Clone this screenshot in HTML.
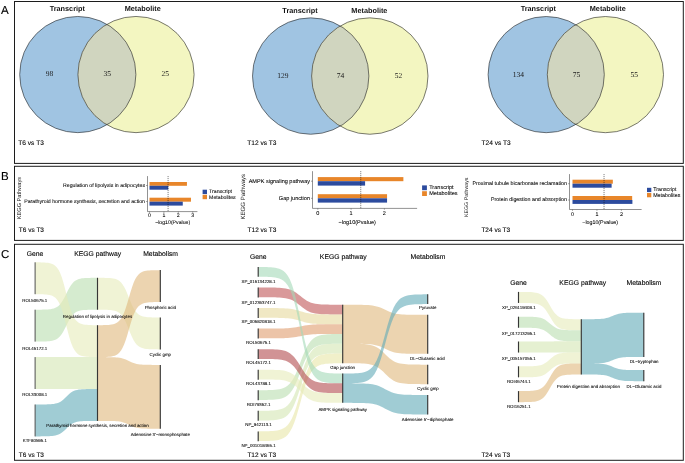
<!DOCTYPE html>
<html><head><meta charset="utf-8"><title>Figure</title>
<style>html,body{margin:0;padding:0;background:#fff;}svg{display:block;}</style></head>
<body><svg width="685" height="463" viewBox="0 0 685 463" text-rendering="geometricPrecision">
<rect width="685" height="463" fill="#fff"/>
<rect x="14.5" y="1.5" width="668.8" height="161.9" fill="none" stroke="#1c1c1c" stroke-width="1"/>
<rect x="14.5" y="166.3" width="668.8" height="74.1" fill="none" stroke="#1c1c1c" stroke-width="1"/>
<rect x="14.5" y="244.3" width="668.8" height="216.0" fill="none" stroke="#1c1c1c" stroke-width="1"/>
<text x="0.90" y="14.00" font-size="11.6" text-anchor="start" font-family="Liberation Sans, Arial, sans-serif" fill="#000"  stroke="#000" stroke-width="0.1">A</text>
<text x="1.00" y="179.80" font-size="11.5" text-anchor="start" font-family="Liberation Sans, Arial, sans-serif" fill="#000"  stroke="#000" stroke-width="0.1">B</text>
<text x="1.00" y="257.90" font-size="11.5" text-anchor="start" font-family="Liberation Sans, Arial, sans-serif" fill="#000"  stroke="#000" stroke-width="0.1">C</text>
<clipPath id="vc1"><circle cx="77.8" cy="74.55" r="58.1"/></clipPath>
<circle cx="77.8" cy="74.55" r="58.1" fill="#a0c4e2"/>
<circle cx="136.0" cy="74.55" r="58.1" fill="#f3f6c1"/>
<circle cx="136.0" cy="74.55" r="58.1" fill="#d0d5bf" clip-path="url(#vc1)"/>
<circle cx="77.8" cy="74.55" r="58.1" fill="none" stroke="#222" stroke-width="0.6"/>
<circle cx="136.0" cy="74.55" r="58.1" fill="none" stroke="#222" stroke-width="0.6"/>
<text x="49.40" y="76.45" font-size="7.5" text-anchor="middle" font-family="Liberation Serif, Times New Roman, serif" fill="#1a1a1a" >98</text>
<text x="107.30" y="76.45" font-size="7.5" text-anchor="middle" font-family="Liberation Serif, Times New Roman, serif" fill="#1a1a1a" >35</text>
<text x="165.20" y="76.45" font-size="7.5" text-anchor="middle" font-family="Liberation Serif, Times New Roman, serif" fill="#1a1a1a" >25</text>
<text x="67.30" y="10.90" font-size="7.3" text-anchor="middle" font-family="Liberation Sans, Arial, sans-serif" font-weight="bold" fill="#111" >Transcript</text>
<text x="142.70" y="10.90" font-size="7.3" text-anchor="middle" font-family="Liberation Sans, Arial, sans-serif" font-weight="bold" fill="#111" >Metabolite</text>
<text x="18.30" y="145.00" font-size="6.6" text-anchor="start" font-family="Liberation Sans, Arial, sans-serif" fill="#000"  stroke="#000" stroke-width="0.1">T6 vs T3</text>
<clipPath id="vc2"><circle cx="310.7" cy="76.05" r="58.2"/></clipPath>
<circle cx="310.7" cy="76.05" r="58.2" fill="#a0c4e2"/>
<circle cx="369.8" cy="76.05" r="58.2" fill="#f3f6c1"/>
<circle cx="369.8" cy="76.05" r="58.2" fill="#d0d5bf" clip-path="url(#vc2)"/>
<circle cx="310.7" cy="76.05" r="58.2" fill="none" stroke="#222" stroke-width="0.6"/>
<circle cx="369.8" cy="76.05" r="58.2" fill="none" stroke="#222" stroke-width="0.6"/>
<text x="282.80" y="77.95" font-size="7.5" text-anchor="middle" font-family="Liberation Serif, Times New Roman, serif" fill="#1a1a1a" >129</text>
<text x="340.50" y="77.95" font-size="7.5" text-anchor="middle" font-family="Liberation Serif, Times New Roman, serif" fill="#1a1a1a" >74</text>
<text x="398.50" y="77.95" font-size="7.5" text-anchor="middle" font-family="Liberation Serif, Times New Roman, serif" fill="#1a1a1a" >52</text>
<text x="300.00" y="12.60" font-size="7.3" text-anchor="middle" font-family="Liberation Sans, Arial, sans-serif" font-weight="bold" fill="#111" >Transcript</text>
<text x="369.40" y="12.60" font-size="7.3" text-anchor="middle" font-family="Liberation Sans, Arial, sans-serif" font-weight="bold" fill="#111" >Metabolite</text>
<text x="247.30" y="145.00" font-size="6.6" text-anchor="start" font-family="Liberation Sans, Arial, sans-serif" fill="#000"  stroke="#000" stroke-width="0.1">T12 vs T3</text>
<clipPath id="vc3"><circle cx="546.2" cy="74.6" r="58.1"/></clipPath>
<circle cx="546.2" cy="74.6" r="58.1" fill="#a0c4e2"/>
<circle cx="605.4" cy="74.6" r="58.1" fill="#f3f6c1"/>
<circle cx="605.4" cy="74.6" r="58.1" fill="#d0d5bf" clip-path="url(#vc3)"/>
<circle cx="546.2" cy="74.6" r="58.1" fill="none" stroke="#222" stroke-width="0.6"/>
<circle cx="605.4" cy="74.6" r="58.1" fill="none" stroke="#222" stroke-width="0.6"/>
<text x="518.30" y="76.50" font-size="7.5" text-anchor="middle" font-family="Liberation Serif, Times New Roman, serif" fill="#1a1a1a" >134</text>
<text x="576.60" y="76.50" font-size="7.5" text-anchor="middle" font-family="Liberation Serif, Times New Roman, serif" fill="#1a1a1a" >75</text>
<text x="634.20" y="76.50" font-size="7.5" text-anchor="middle" font-family="Liberation Serif, Times New Roman, serif" fill="#1a1a1a" >55</text>
<text x="538.30" y="10.90" font-size="7.3" text-anchor="middle" font-family="Liberation Sans, Arial, sans-serif" font-weight="bold" fill="#111" >Transcript</text>
<text x="607.80" y="10.90" font-size="7.3" text-anchor="middle" font-family="Liberation Sans, Arial, sans-serif" font-weight="bold" fill="#111" >Metabolite</text>
<text x="481.50" y="145.00" font-size="6.6" text-anchor="start" font-family="Liberation Sans, Arial, sans-serif" fill="#000"  stroke="#000" stroke-width="0.1">T24 vs T3</text>
<rect x="149.5" y="182" width="37.44" height="3.80" fill="#e8862a"/>
<rect x="149.5" y="185.8" width="18.72" height="3.90" fill="#2c4b9e"/>
<line x1="146.0" y1="185.5" x2="147.5" y2="185.5" stroke="#484848" stroke-width="0.5"/>
<text x="145.00" y="186.90" font-size="5.2" text-anchor="end" font-family="Liberation Sans, Arial, sans-serif" fill="#000"  stroke="#000" stroke-width="0.07">Regulation of lipolysis in adipocytes</text>
<rect x="149.5" y="197.7" width="41.47" height="4.00" fill="#e8862a"/>
<rect x="149.5" y="201.7" width="33.26" height="3.90" fill="#2c4b9e"/>
<line x1="146.0" y1="201.5" x2="147.5" y2="201.5" stroke="#484848" stroke-width="0.5"/>
<text x="145.00" y="202.90" font-size="5.2" text-anchor="end" font-family="Liberation Sans, Arial, sans-serif" fill="#000"  stroke="#000" stroke-width="0.07">Parathyroid hormone synthesis, secretion and action</text>
<line x1="168.08" y1="176.1" x2="168.08" y2="211.6" stroke="#111" stroke-width="0.6" stroke-dasharray="1 1"/>
<path d="M147.5 176.1V211.6H197.4" fill="none" stroke="#484848" stroke-width="0.6"/>
<line x1="149.50" y1="211.6" x2="149.50" y2="212.9" stroke="#484848" stroke-width="0.5"/>
<text x="149.50" y="216.80" font-size="5.2" text-anchor="middle" font-family="Liberation Sans, Arial, sans-serif" fill="#000"  stroke="#000" stroke-width="0.07">0</text>
<line x1="163.90" y1="211.6" x2="163.90" y2="212.9" stroke="#484848" stroke-width="0.5"/>
<text x="163.90" y="216.80" font-size="5.2" text-anchor="middle" font-family="Liberation Sans, Arial, sans-serif" fill="#000"  stroke="#000" stroke-width="0.07">1</text>
<line x1="178.30" y1="211.6" x2="178.30" y2="212.9" stroke="#484848" stroke-width="0.5"/>
<text x="178.30" y="216.80" font-size="5.2" text-anchor="middle" font-family="Liberation Sans, Arial, sans-serif" fill="#000"  stroke="#000" stroke-width="0.07">2</text>
<line x1="192.70" y1="211.6" x2="192.70" y2="212.9" stroke="#484848" stroke-width="0.5"/>
<text x="192.70" y="216.80" font-size="5.2" text-anchor="middle" font-family="Liberation Sans, Arial, sans-serif" fill="#000"  stroke="#000" stroke-width="0.07">3</text>
<text x="172.70" y="224.00" font-size="5.2" text-anchor="middle" font-family="Liberation Sans, Arial, sans-serif" fill="#000"  stroke="#000" stroke-width="0.07">−log10(Pvalue)</text>
<text transform="translate(21,198.1) rotate(-90)" font-size="5.65" text-anchor="middle" font-family="Liberation Sans, Arial, sans-serif" fill="#1a1a1a">KEGG Pathways</text>
<rect x="202.6" y="189.7" width="4.4" height="4.4" fill="#2c4b9e"/>
<rect x="202.6" y="194.8" width="4.4" height="4.4" fill="#e8862a"/>
<text x="209.10" y="193.30" font-size="5.2" text-anchor="start" font-family="Liberation Sans, Arial, sans-serif" fill="#000"  stroke="#000" stroke-width="0.07">Transcript</text>
<text x="209.10" y="198.60" font-size="5.2" text-anchor="start" font-family="Liberation Sans, Arial, sans-serif" fill="#000"  stroke="#000" stroke-width="0.07">Metabolites</text>
<text x="18.80" y="232.10" font-size="6.5" text-anchor="start" font-family="Liberation Sans, Arial, sans-serif" fill="#000"  stroke="#000" stroke-width="0.1">T6 vs T3</text>
<rect x="317.8" y="177.1" width="85.58" height="4.10" fill="#e8862a"/>
<rect x="317.8" y="181.2" width="47.29" height="4.40" fill="#2c4b9e"/>
<line x1="311.0" y1="181.2" x2="312.5" y2="181.2" stroke="#484848" stroke-width="0.5"/>
<text x="310.00" y="182.50" font-size="5.55" text-anchor="end" font-family="Liberation Sans, Arial, sans-serif" fill="#000"  stroke="#000" stroke-width="0.07">AMPK signaling pathway</text>
<rect x="317.8" y="194.2" width="69.26" height="4.10" fill="#e8862a"/>
<rect x="317.8" y="198.3" width="69.26" height="4.30" fill="#2c4b9e"/>
<line x1="311.0" y1="198.3" x2="312.5" y2="198.3" stroke="#484848" stroke-width="0.5"/>
<text x="310.00" y="199.50" font-size="5.55" text-anchor="end" font-family="Liberation Sans, Arial, sans-serif" fill="#000"  stroke="#000" stroke-width="0.07">Gap junction</text>
<line x1="360.76" y1="171.2" x2="360.76" y2="208.4" stroke="#111" stroke-width="0.6" stroke-dasharray="1 1"/>
<path d="M312.5 171.2V208.4H417.1" fill="none" stroke="#484848" stroke-width="0.6"/>
<line x1="317.80" y1="208.4" x2="317.80" y2="209.70000000000002" stroke="#484848" stroke-width="0.5"/>
<text x="317.80" y="214.80" font-size="5.55" text-anchor="middle" font-family="Liberation Sans, Arial, sans-serif" fill="#000"  stroke="#000" stroke-width="0.07">0</text>
<line x1="351.10" y1="208.4" x2="351.10" y2="209.70000000000002" stroke="#484848" stroke-width="0.5"/>
<text x="351.10" y="214.80" font-size="5.55" text-anchor="middle" font-family="Liberation Sans, Arial, sans-serif" fill="#000"  stroke="#000" stroke-width="0.07">1</text>
<line x1="384.40" y1="208.4" x2="384.40" y2="209.70000000000002" stroke="#484848" stroke-width="0.5"/>
<text x="384.40" y="214.80" font-size="5.55" text-anchor="middle" font-family="Liberation Sans, Arial, sans-serif" fill="#000"  stroke="#000" stroke-width="0.07">2</text>
<text x="357.20" y="223.70" font-size="5.55" text-anchor="middle" font-family="Liberation Sans, Arial, sans-serif" fill="#000"  stroke="#000" stroke-width="0.07">−log10(Pvalue)</text>
<text transform="translate(244.7,196.7) rotate(-90)" font-size="6.1" text-anchor="middle" font-family="Liberation Sans, Arial, sans-serif" fill="#1a1a1a">KEGG Pathways</text>
<rect x="422.1" y="185.4" width="4.8" height="4.8" fill="#2c4b9e"/>
<rect x="422.1" y="191.2" width="4.8" height="4.8" fill="#e8862a"/>
<text x="429.20" y="189.30" font-size="5.55" text-anchor="start" font-family="Liberation Sans, Arial, sans-serif" fill="#000"  stroke="#000" stroke-width="0.07">Transcript</text>
<text x="429.20" y="195.30" font-size="5.55" text-anchor="start" font-family="Liberation Sans, Arial, sans-serif" fill="#000"  stroke="#000" stroke-width="0.07">Metabolites</text>
<text x="247.60" y="231.90" font-size="6.5" text-anchor="start" font-family="Liberation Sans, Arial, sans-serif" fill="#000"  stroke="#000" stroke-width="0.1">T12 vs T3</text>
<rect x="572.5" y="179.7" width="40.34" height="4.00" fill="#e8862a"/>
<rect x="572.5" y="183.7" width="39.12" height="4.00" fill="#2c4b9e"/>
<line x1="568.0" y1="183.7" x2="569.5" y2="183.7" stroke="#484848" stroke-width="0.5"/>
<text x="567.00" y="184.60" font-size="5.3" text-anchor="end" font-family="Liberation Sans, Arial, sans-serif" fill="#000"  stroke="#000" stroke-width="0.07">Proximal tubule bicarbonate reclamation</text>
<rect x="572.5" y="196" width="59.66" height="4.00" fill="#e8862a"/>
<rect x="572.5" y="200" width="59.90" height="3.90" fill="#2c4b9e"/>
<line x1="568.0" y1="200" x2="569.5" y2="200" stroke="#484848" stroke-width="0.5"/>
<text x="567.00" y="200.90" font-size="5.3" text-anchor="end" font-family="Liberation Sans, Arial, sans-serif" fill="#000"  stroke="#000" stroke-width="0.07">Protein digestion and absorption</text>
<line x1="604.04" y1="174.1" x2="604.04" y2="209.5" stroke="#111" stroke-width="0.6" stroke-dasharray="1 1"/>
<path d="M569.5 174.1V209.5H641.6" fill="none" stroke="#484848" stroke-width="0.6"/>
<line x1="572.50" y1="209.5" x2="572.50" y2="210.8" stroke="#484848" stroke-width="0.5"/>
<text x="572.50" y="215.70" font-size="5.3" text-anchor="middle" font-family="Liberation Sans, Arial, sans-serif" fill="#000"  stroke="#000" stroke-width="0.07">0</text>
<line x1="596.95" y1="209.5" x2="596.95" y2="210.8" stroke="#484848" stroke-width="0.5"/>
<text x="596.95" y="215.70" font-size="5.3" text-anchor="middle" font-family="Liberation Sans, Arial, sans-serif" fill="#000"  stroke="#000" stroke-width="0.07">1</text>
<line x1="621.40" y1="209.5" x2="621.40" y2="210.8" stroke="#484848" stroke-width="0.5"/>
<text x="621.40" y="215.70" font-size="5.3" text-anchor="middle" font-family="Liberation Sans, Arial, sans-serif" fill="#000"  stroke="#000" stroke-width="0.07">2</text>
<text x="600.20" y="224.30" font-size="5.3" text-anchor="middle" font-family="Liberation Sans, Arial, sans-serif" fill="#000"  stroke="#000" stroke-width="0.07">−log10(Pvalue)</text>
<text transform="translate(468.4,197.3) rotate(-90)" font-size="5.25" text-anchor="middle" font-family="Liberation Sans, Arial, sans-serif" fill="#1a1a1a">KEGG Pathways</text>
<rect x="647" y="187.8" width="4.3" height="4.3" fill="#2c4b9e"/>
<rect x="647" y="193" width="4.3" height="4.3" fill="#e8862a"/>
<text x="653.20" y="191.00" font-size="5.3" text-anchor="start" font-family="Liberation Sans, Arial, sans-serif" fill="#000"  stroke="#000" stroke-width="0.07">Transcript</text>
<text x="653.20" y="197.30" font-size="5.3" text-anchor="start" font-family="Liberation Sans, Arial, sans-serif" fill="#000"  stroke="#000" stroke-width="0.07">Metabolites</text>
<text x="481.40" y="232.10" font-size="6.5" text-anchor="start" font-family="Liberation Sans, Arial, sans-serif" fill="#000"  stroke="#000" stroke-width="0.1">T24 vs T3</text>
<path d="M35.10 309.69 L36.66 309.68 L38.22 309.68 L39.78 309.66 L41.34 309.65 L42.90 309.62 L44.46 309.58 L46.02 309.52 L47.58 309.44 L49.14 309.31 L50.70 309.13 L52.26 308.85 L53.82 308.45 L55.38 307.87 L56.94 307.05 L58.50 305.90 L60.06 304.34 L61.62 302.32 L63.18 299.81 L64.74 296.90 L66.30 293.75 L67.86 290.60 L69.42 287.69 L70.98 285.18 L72.54 283.16 L74.10 281.60 L75.66 280.45 L77.22 279.63 L78.78 279.05 L80.34 278.65 L81.90 278.37 L83.46 278.19 L85.02 278.06 L86.58 277.98 L88.14 277.92 L89.70 277.88 L91.26 277.85 L92.82 277.84 L94.38 277.82 L95.94 277.82 L97.50 277.81 L97.50 309.71 L95.94 309.72 L94.38 309.72 L92.82 309.74 L91.26 309.75 L89.70 309.78 L88.14 309.82 L86.58 309.88 L85.02 309.96 L83.46 310.09 L81.90 310.27 L80.34 310.55 L78.78 310.95 L77.22 311.53 L75.66 312.35 L74.10 313.50 L72.54 315.06 L70.98 317.08 L69.42 319.59 L67.86 322.50 L66.30 325.65 L64.74 328.80 L63.18 331.71 L61.62 334.22 L60.06 336.24 L58.50 337.80 L56.94 338.95 L55.38 339.77 L53.82 340.35 L52.26 340.75 L50.70 341.03 L49.14 341.21 L47.58 341.34 L46.02 341.42 L44.46 341.48 L42.90 341.52 L41.34 341.55 L39.78 341.56 L38.22 341.58 L36.66 341.58 L35.10 341.59Z" fill="#b9deaf" fill-opacity="0.6"/>
<path d="M35.10 262.32 L36.66 262.33 L38.22 262.35 L39.78 262.37 L41.34 262.40 L42.90 262.46 L44.46 262.53 L46.02 262.65 L47.58 262.81 L49.14 263.06 L50.70 263.43 L52.26 263.97 L53.82 264.76 L55.38 265.91 L56.94 267.53 L58.50 269.80 L60.06 272.87 L61.62 276.86 L63.18 281.80 L64.74 287.54 L66.30 293.75 L67.86 299.96 L69.42 305.70 L70.98 310.64 L72.54 314.63 L74.10 317.70 L75.66 319.97 L77.22 321.59 L78.78 322.74 L80.34 323.53 L81.90 324.07 L83.46 324.44 L85.02 324.69 L86.58 324.85 L88.14 324.97 L89.70 325.04 L91.26 325.10 L92.82 325.13 L94.38 325.15 L95.94 325.17 L97.50 325.18 L97.50 357.08 L95.94 357.07 L94.38 357.05 L92.82 357.03 L91.26 357.00 L89.70 356.94 L88.14 356.87 L86.58 356.75 L85.02 356.59 L83.46 356.34 L81.90 355.97 L80.34 355.43 L78.78 354.64 L77.22 353.49 L75.66 351.87 L74.10 349.60 L72.54 346.53 L70.98 342.54 L69.42 337.60 L67.86 331.86 L66.30 325.65 L64.74 319.44 L63.18 313.70 L61.62 308.76 L60.06 304.77 L58.50 301.70 L56.94 299.43 L55.38 297.81 L53.82 296.66 L52.26 295.87 L50.70 295.33 L49.14 294.96 L47.58 294.71 L46.02 294.55 L44.46 294.43 L42.90 294.36 L41.34 294.30 L39.78 294.27 L38.22 294.25 L36.66 294.23 L35.10 294.22Z" fill="#e6ebb9" fill-opacity="0.6"/>
<path d="M35.10 357.10 L36.66 357.10 L38.22 357.10 L39.78 357.10 L41.34 357.10 L42.90 357.10 L44.46 357.10 L46.02 357.10 L47.58 357.10 L49.14 357.10 L50.70 357.10 L52.26 357.10 L53.82 357.10 L55.38 357.10 L56.94 357.10 L58.50 357.10 L60.06 357.10 L61.62 357.10 L63.18 357.10 L64.74 357.10 L66.30 357.10 L67.86 357.10 L69.42 357.10 L70.98 357.10 L72.54 357.10 L74.10 357.10 L75.66 357.10 L77.22 357.10 L78.78 357.10 L80.34 357.10 L81.90 357.10 L83.46 357.10 L85.02 357.10 L86.58 357.10 L88.14 357.10 L89.70 357.10 L91.26 357.10 L92.82 357.10 L94.38 357.10 L95.94 357.10 L97.50 357.10 L97.50 389.00 L95.94 389.00 L94.38 389.00 L92.82 389.00 L91.26 389.00 L89.70 389.00 L88.14 389.00 L86.58 389.00 L85.02 389.00 L83.46 389.00 L81.90 389.00 L80.34 389.00 L78.78 389.00 L77.22 389.00 L75.66 389.00 L74.10 389.00 L72.54 389.00 L70.98 389.00 L69.42 389.00 L67.86 389.00 L66.30 389.00 L64.74 389.00 L63.18 389.00 L61.62 389.00 L60.06 389.00 L58.50 389.00 L56.94 389.00 L55.38 389.00 L53.82 389.00 L52.26 389.00 L50.70 389.00 L49.14 389.00 L47.58 389.00 L46.02 389.00 L44.46 389.00 L42.90 389.00 L41.34 389.00 L39.78 389.00 L38.22 389.00 L36.66 389.00 L35.10 389.00Z" fill="#d4e6b2" fill-opacity="0.6"/>
<path d="M35.10 404.49 L36.66 404.49 L38.22 404.49 L39.78 404.48 L41.34 404.47 L42.90 404.46 L44.46 404.44 L46.02 404.41 L47.58 404.37 L49.14 404.31 L50.70 404.22 L52.26 404.09 L53.82 403.89 L55.38 403.61 L56.94 403.21 L58.50 402.65 L60.06 401.90 L61.62 400.91 L63.18 399.69 L64.74 398.28 L66.30 396.75 L67.86 395.22 L69.42 393.81 L70.98 392.59 L72.54 391.60 L74.10 390.85 L75.66 390.29 L77.22 389.89 L78.78 389.61 L80.34 389.41 L81.90 389.28 L83.46 389.19 L85.02 389.13 L86.58 389.09 L88.14 389.06 L89.70 389.04 L91.26 389.03 L92.82 389.02 L94.38 389.01 L95.94 389.01 L97.50 389.01 L97.50 420.91 L95.94 420.91 L94.38 420.91 L92.82 420.92 L91.26 420.93 L89.70 420.94 L88.14 420.96 L86.58 420.99 L85.02 421.03 L83.46 421.09 L81.90 421.18 L80.34 421.31 L78.78 421.51 L77.22 421.79 L75.66 422.19 L74.10 422.75 L72.54 423.50 L70.98 424.49 L69.42 425.71 L67.86 427.12 L66.30 428.65 L64.74 430.18 L63.18 431.59 L61.62 432.81 L60.06 433.80 L58.50 434.55 L56.94 435.11 L55.38 435.51 L53.82 435.79 L52.26 435.99 L50.70 436.12 L49.14 436.21 L47.58 436.27 L46.02 436.31 L44.46 436.34 L42.90 436.36 L41.34 436.37 L39.78 436.38 L38.22 436.39 L36.66 436.39 L35.10 436.39Z" fill="#61aab7" fill-opacity="0.6"/>
<path d="M97.50 277.81 L99.07 277.82 L100.64 277.83 L102.21 277.84 L103.78 277.87 L105.35 277.90 L106.92 277.95 L108.49 278.02 L110.06 278.12 L111.63 278.28 L113.20 278.51 L114.77 278.86 L116.34 279.35 L117.91 280.08 L119.48 281.10 L121.05 282.53 L122.62 284.47 L124.19 286.99 L125.76 290.11 L127.33 293.73 L128.90 297.65 L130.47 301.57 L132.04 305.19 L133.61 308.31 L135.18 310.83 L136.75 312.77 L138.32 314.20 L139.89 315.22 L141.46 315.95 L143.03 316.44 L144.60 316.79 L146.17 317.02 L147.74 317.18 L149.31 317.28 L150.88 317.35 L152.45 317.40 L154.02 317.43 L155.59 317.46 L157.16 317.47 L158.73 317.48 L160.30 317.49 L160.30 349.39 L158.73 349.38 L157.16 349.37 L155.59 349.36 L154.02 349.33 L152.45 349.30 L150.88 349.25 L149.31 349.18 L147.74 349.08 L146.17 348.92 L144.60 348.69 L143.03 348.34 L141.46 347.85 L139.89 347.12 L138.32 346.10 L136.75 344.67 L135.18 342.73 L133.61 340.21 L132.04 337.09 L130.47 333.47 L128.90 329.55 L127.33 325.63 L125.76 322.01 L124.19 318.89 L122.62 316.37 L121.05 314.43 L119.48 313.00 L117.91 311.98 L116.34 311.25 L114.77 310.76 L113.20 310.41 L111.63 310.18 L110.06 310.02 L108.49 309.92 L106.92 309.85 L105.35 309.80 L103.78 309.77 L102.21 309.74 L100.64 309.73 L99.07 309.72 L97.50 309.71Z" fill="#e6ebb9" fill-opacity="0.6"/>
<path d="M97.50 325.18 L99.07 325.17 L100.64 325.16 L102.21 325.14 L103.78 325.11 L105.35 325.06 L106.92 325.00 L108.49 324.90 L110.06 324.75 L111.63 324.53 L113.20 324.21 L114.77 323.73 L116.34 323.04 L117.91 322.04 L119.48 320.62 L121.05 318.63 L122.62 315.94 L124.19 312.45 L125.76 308.12 L127.33 303.09 L128.90 297.65 L130.47 292.21 L132.04 287.18 L133.61 282.85 L135.18 279.36 L136.75 276.67 L138.32 274.68 L139.89 273.26 L141.46 272.26 L143.03 271.57 L144.60 271.09 L146.17 270.77 L147.74 270.55 L149.31 270.40 L150.88 270.30 L152.45 270.24 L154.02 270.19 L155.59 270.16 L157.16 270.14 L158.73 270.13 L160.30 270.12 L160.30 302.02 L158.73 302.03 L157.16 302.04 L155.59 302.06 L154.02 302.09 L152.45 302.14 L150.88 302.20 L149.31 302.30 L147.74 302.45 L146.17 302.67 L144.60 302.99 L143.03 303.47 L141.46 304.16 L139.89 305.16 L138.32 306.58 L136.75 308.57 L135.18 311.26 L133.61 314.75 L132.04 319.08 L130.47 324.11 L128.90 329.55 L127.33 334.99 L125.76 340.02 L124.19 344.35 L122.62 347.84 L121.05 350.53 L119.48 352.52 L117.91 353.94 L116.34 354.94 L114.77 355.63 L113.20 356.11 L111.63 356.43 L110.06 356.65 L108.49 356.80 L106.92 356.90 L105.35 356.96 L103.78 357.01 L102.21 357.04 L100.64 357.06 L99.07 357.07 L97.50 357.08ZM97.50 357.10 L99.07 357.10 L100.64 357.11 L102.21 357.11 L103.78 357.11 L105.35 357.12 L106.92 357.13 L108.49 357.14 L110.06 357.16 L111.63 357.19 L113.20 357.24 L114.77 357.31 L116.34 357.41 L117.91 357.55 L119.48 357.75 L121.05 358.03 L122.62 358.41 L124.19 358.91 L125.76 359.52 L127.33 360.23 L128.90 361.00 L130.47 361.77 L132.04 362.48 L133.61 363.09 L135.18 363.59 L136.75 363.97 L138.32 364.25 L139.89 364.45 L141.46 364.59 L143.03 364.69 L144.60 364.76 L146.17 364.81 L147.74 364.84 L149.31 364.86 L150.88 364.87 L152.45 364.88 L154.02 364.89 L155.59 364.89 L157.16 364.89 L158.73 364.90 L160.30 364.90 L160.30 428.70 L158.73 428.70 L157.16 428.69 L155.59 428.69 L154.02 428.69 L152.45 428.68 L150.88 428.67 L149.31 428.66 L147.74 428.64 L146.17 428.61 L144.60 428.56 L143.03 428.49 L141.46 428.39 L139.89 428.25 L138.32 428.05 L136.75 427.77 L135.18 427.39 L133.61 426.89 L132.04 426.28 L130.47 425.57 L128.90 424.80 L127.33 424.03 L125.76 423.32 L124.19 422.71 L122.62 422.21 L121.05 421.83 L119.48 421.55 L117.91 421.35 L116.34 421.21 L114.77 421.11 L113.20 421.04 L111.63 420.99 L110.06 420.96 L108.49 420.94 L106.92 420.93 L105.35 420.92 L103.78 420.91 L102.21 420.91 L100.64 420.91 L99.07 420.90 L97.50 420.90Z" fill="#dfb77b" fill-opacity="0.6"/>
<line x1="35.1" y1="262.30" x2="35.1" y2="294.20" stroke="#505050" stroke-width="1.0"/>
<line x1="35.1" y1="309.70" x2="35.1" y2="341.60" stroke="#505050" stroke-width="1.0"/>
<line x1="35.1" y1="357.10" x2="35.1" y2="389.00" stroke="#505050" stroke-width="1.0"/>
<line x1="35.1" y1="404.50" x2="35.1" y2="436.40" stroke="#505050" stroke-width="1.0"/>
<line x1="97.5" y1="277.80" x2="97.5" y2="309.70" stroke="#363636" stroke-width="1.15"/>
<line x1="97.5" y1="325.20" x2="97.5" y2="420.90" stroke="#363636" stroke-width="1.15"/>
<line x1="160.3" y1="270.10" x2="160.3" y2="302.00" stroke="#363636" stroke-width="1.15"/>
<line x1="160.3" y1="317.50" x2="160.3" y2="349.40" stroke="#363636" stroke-width="1.15"/>
<line x1="160.3" y1="364.90" x2="160.3" y2="428.70" stroke="#363636" stroke-width="1.15"/>
<text x="34.80" y="301.90" font-size="4.4" text-anchor="middle" font-family="Liberation Sans, Arial, sans-serif" fill="#000"  stroke="#000" stroke-width="0.07">ROL50675.1</text>
<text x="34.80" y="349.80" font-size="4.4" text-anchor="middle" font-family="Liberation Sans, Arial, sans-serif" fill="#000"  stroke="#000" stroke-width="0.07">ROL45172.1</text>
<text x="34.80" y="395.80" font-size="4.4" text-anchor="middle" font-family="Liberation Sans, Arial, sans-serif" fill="#000"  stroke="#000" stroke-width="0.07">ROL33008.1</text>
<text x="34.80" y="442.20" font-size="4.4" text-anchor="middle" font-family="Liberation Sans, Arial, sans-serif" fill="#000"  stroke="#000" stroke-width="0.07">KTF80595.1</text>
<text x="97.50" y="318.30" font-size="4.4" text-anchor="middle" font-family="Liberation Sans, Arial, sans-serif" fill="#000"  stroke="#000" stroke-width="0.07">Regulation of lipolysis in adipocytes</text>
<text x="97.50" y="427.00" font-size="4.4" text-anchor="middle" font-family="Liberation Sans, Arial, sans-serif" fill="#000"  stroke="#000" stroke-width="0.07">Parathyroid hormone synthesis, secretion and action</text>
<text x="160.30" y="309.00" font-size="4.4" text-anchor="middle" font-family="Liberation Sans, Arial, sans-serif" fill="#000"  stroke="#000" stroke-width="0.07">Phosphoric acid</text>
<text x="160.30" y="355.80" font-size="4.4" text-anchor="middle" font-family="Liberation Sans, Arial, sans-serif" fill="#000"  stroke="#000" stroke-width="0.07">Cyclic gmp</text>
<text x="160.30" y="435.70" font-size="4.4" text-anchor="middle" font-family="Liberation Sans, Arial, sans-serif" fill="#000"  stroke="#000" stroke-width="0.07">Adenosine 3'−monophosphate</text>
<text x="35.10" y="255.50" font-size="6.8" text-anchor="middle" font-family="Liberation Sans, Arial, sans-serif" fill="#000"  stroke="#000" stroke-width="0.1">Gene</text>
<text x="97.70" y="255.50" font-size="6.8" text-anchor="middle" font-family="Liberation Sans, Arial, sans-serif" fill="#000"  stroke="#000" stroke-width="0.1">KEGG pathway</text>
<text x="160.60" y="255.50" font-size="6.8" text-anchor="middle" font-family="Liberation Sans, Arial, sans-serif" fill="#000"  stroke="#000" stroke-width="0.1">Metabolism</text>
<text x="18.80" y="456.70" font-size="6.5" text-anchor="start" font-family="Liberation Sans, Arial, sans-serif" fill="#000"  stroke="#000" stroke-width="0.1">T6 vs T3</text>
<path d="M258.20 287.47 L260.31 287.47 L262.43 287.47 L264.54 287.48 L266.65 287.49 L268.76 287.50 L270.88 287.52 L272.99 287.55 L275.10 287.60 L277.21 287.67 L279.32 287.77 L281.44 287.92 L283.55 288.14 L285.66 288.45 L287.77 288.89 L289.89 289.52 L292.00 290.36 L294.11 291.45 L296.22 292.80 L298.34 294.38 L300.45 296.08 L302.56 297.78 L304.68 299.36 L306.79 300.71 L308.90 301.80 L311.01 302.64 L313.12 303.27 L315.24 303.71 L317.35 304.02 L319.46 304.24 L321.57 304.39 L323.69 304.49 L325.80 304.56 L327.91 304.61 L330.02 304.64 L332.14 304.66 L334.25 304.67 L336.36 304.68 L338.47 304.69 L340.59 304.69 L342.70 304.69 L342.70 314.44 L340.59 314.44 L338.47 314.44 L336.36 314.43 L334.25 314.42 L332.14 314.41 L330.02 314.39 L327.91 314.36 L325.80 314.31 L323.69 314.24 L321.57 314.14 L319.46 313.99 L317.35 313.77 L315.24 313.46 L313.12 313.02 L311.01 312.39 L308.90 311.55 L306.79 310.46 L304.68 309.11 L302.56 307.53 L300.45 305.83 L298.34 304.13 L296.22 302.55 L294.11 301.20 L292.00 300.11 L289.89 299.27 L287.77 298.64 L285.66 298.20 L283.55 297.89 L281.44 297.67 L279.32 297.52 L277.21 297.42 L275.10 297.35 L272.99 297.30 L270.88 297.27 L268.76 297.25 L266.65 297.24 L264.54 297.23 L262.43 297.22 L260.31 297.22 L258.20 297.22Z" fill="#c05557" fill-opacity="0.6"/>
<path d="M258.20 308.02 L260.31 308.02 L262.43 308.02 L264.54 308.03 L266.65 308.03 L268.76 308.04 L270.88 308.04 L272.99 308.06 L275.10 308.07 L277.21 308.10 L279.32 308.14 L281.44 308.19 L283.55 308.27 L285.66 308.39 L287.77 308.55 L289.89 308.79 L292.00 309.10 L294.11 309.51 L296.22 310.01 L298.34 310.60 L300.45 311.24 L302.56 311.87 L304.68 312.46 L306.79 312.96 L308.90 313.37 L311.01 313.68 L313.12 313.92 L315.24 314.08 L317.35 314.20 L319.46 314.28 L321.57 314.33 L323.69 314.37 L325.80 314.40 L327.91 314.41 L330.02 314.43 L332.14 314.43 L334.25 314.44 L336.36 314.44 L338.47 314.45 L340.59 314.45 L342.70 314.45 L342.70 324.20 L340.59 324.20 L338.47 324.20 L336.36 324.19 L334.25 324.19 L332.14 324.18 L330.02 324.18 L327.91 324.16 L325.80 324.15 L323.69 324.12 L321.57 324.08 L319.46 324.03 L317.35 323.95 L315.24 323.83 L313.12 323.67 L311.01 323.43 L308.90 323.12 L306.79 322.71 L304.68 322.21 L302.56 321.62 L300.45 320.99 L298.34 320.35 L296.22 319.76 L294.11 319.26 L292.00 318.85 L289.89 318.54 L287.77 318.30 L285.66 318.14 L283.55 318.02 L281.44 317.94 L279.32 317.89 L277.21 317.85 L275.10 317.82 L272.99 317.81 L270.88 317.79 L268.76 317.79 L266.65 317.78 L264.54 317.78 L262.43 317.77 L260.31 317.77 L258.20 317.77Z" fill="#e6d99d" fill-opacity="0.6"/>
<path d="M258.20 328.58 L260.31 328.58 L262.43 328.58 L264.54 328.58 L266.65 328.57 L268.76 328.57 L270.88 328.56 L272.99 328.56 L275.10 328.54 L277.21 328.53 L279.32 328.50 L281.44 328.46 L283.55 328.41 L285.66 328.33 L287.77 328.22 L289.89 328.06 L292.00 327.84 L294.11 327.57 L296.22 327.22 L298.34 326.82 L300.45 326.39 L302.56 325.96 L304.68 325.56 L306.79 325.21 L308.90 324.94 L311.01 324.72 L313.12 324.56 L315.24 324.45 L317.35 324.37 L319.46 324.32 L321.57 324.28 L323.69 324.25 L325.80 324.24 L327.91 324.22 L330.02 324.22 L332.14 324.21 L334.25 324.21 L336.36 324.20 L338.47 324.20 L340.59 324.20 L342.70 324.20 L342.70 333.95 L340.59 333.95 L338.47 333.95 L336.36 333.95 L334.25 333.96 L332.14 333.96 L330.02 333.97 L327.91 333.97 L325.80 333.99 L323.69 334.00 L321.57 334.03 L319.46 334.07 L317.35 334.12 L315.24 334.20 L313.12 334.31 L311.01 334.47 L308.90 334.69 L306.79 334.96 L304.68 335.31 L302.56 335.71 L300.45 336.14 L298.34 336.57 L296.22 336.97 L294.11 337.32 L292.00 337.59 L289.89 337.81 L287.77 337.97 L285.66 338.08 L283.55 338.16 L281.44 338.21 L279.32 338.25 L277.21 338.28 L275.10 338.29 L272.99 338.31 L270.88 338.31 L268.76 338.32 L266.65 338.32 L264.54 338.33 L262.43 338.33 L260.31 338.33 L258.20 338.33Z" fill="#df9d6e" fill-opacity="0.6"/>
<path d="M258.20 390.24 L260.31 390.23 L262.43 390.22 L264.54 390.20 L266.65 390.17 L268.76 390.12 L270.88 390.05 L272.99 389.95 L275.10 389.80 L277.21 389.58 L279.32 389.25 L281.44 388.76 L283.55 388.05 L285.66 387.03 L287.77 385.58 L289.89 383.55 L292.00 380.80 L294.11 377.23 L296.22 372.80 L298.34 367.66 L300.45 362.11 L302.56 356.55 L304.68 351.41 L306.79 346.98 L308.90 343.41 L311.01 340.66 L313.12 338.63 L315.24 337.18 L317.35 336.16 L319.46 335.45 L321.57 334.96 L323.69 334.63 L325.80 334.41 L327.91 334.26 L330.02 334.16 L332.14 334.09 L334.25 334.04 L336.36 334.01 L338.47 333.99 L340.59 333.98 L342.70 333.97 L342.70 343.72 L340.59 343.73 L338.47 343.74 L336.36 343.76 L334.25 343.79 L332.14 343.84 L330.02 343.91 L327.91 344.01 L325.80 344.16 L323.69 344.38 L321.57 344.71 L319.46 345.20 L317.35 345.91 L315.24 346.93 L313.12 348.38 L311.01 350.41 L308.90 353.16 L306.79 356.73 L304.68 361.16 L302.56 366.30 L300.45 371.86 L298.34 377.41 L296.22 382.55 L294.11 386.98 L292.00 390.55 L289.89 393.30 L287.77 395.33 L285.66 396.78 L283.55 397.80 L281.44 398.51 L279.32 399.00 L277.21 399.33 L275.10 399.55 L272.99 399.70 L270.88 399.80 L268.76 399.87 L266.65 399.92 L264.54 399.95 L262.43 399.97 L260.31 399.98 L258.20 399.99Z" fill="#b9deaf" fill-opacity="0.6"/>
<path d="M258.20 410.80 L260.31 410.79 L262.43 410.77 L264.54 410.75 L266.65 410.71 L268.76 410.65 L270.88 410.57 L272.99 410.45 L275.10 410.27 L277.21 410.01 L279.32 409.61 L281.44 409.03 L283.55 408.19 L285.66 406.97 L287.77 405.24 L289.89 402.82 L292.00 399.55 L294.11 395.28 L296.22 390.01 L298.34 383.88 L300.45 377.26 L302.56 370.64 L304.68 364.51 L306.79 359.24 L308.90 354.97 L311.01 351.70 L313.12 349.28 L315.24 347.55 L317.35 346.33 L319.46 345.49 L321.57 344.91 L323.69 344.51 L325.80 344.25 L327.91 344.07 L330.02 343.95 L332.14 343.87 L334.25 343.81 L336.36 343.77 L338.47 343.75 L340.59 343.73 L342.70 343.72 L342.70 353.47 L340.59 353.48 L338.47 353.50 L336.36 353.52 L334.25 353.56 L332.14 353.62 L330.02 353.70 L327.91 353.82 L325.80 354.00 L323.69 354.26 L321.57 354.66 L319.46 355.24 L317.35 356.08 L315.24 357.30 L313.12 359.03 L311.01 361.45 L308.90 364.72 L306.79 368.99 L304.68 374.26 L302.56 380.39 L300.45 387.01 L298.34 393.63 L296.22 399.76 L294.11 405.03 L292.00 409.30 L289.89 412.57 L287.77 414.99 L285.66 416.72 L283.55 417.94 L281.44 418.78 L279.32 419.36 L277.21 419.76 L275.10 420.02 L272.99 420.20 L270.88 420.32 L268.76 420.40 L266.65 420.46 L264.54 420.50 L262.43 420.52 L260.31 420.54 L258.20 420.55Z" fill="#d4e6b2" fill-opacity="0.6"/>
<path d="M258.20 431.35 L260.31 431.34 L262.43 431.32 L264.54 431.29 L266.65 431.25 L268.76 431.19 L270.88 431.09 L272.99 430.95 L275.10 430.74 L277.21 430.43 L279.32 429.98 L281.44 429.31 L283.55 428.33 L285.66 426.91 L287.77 424.90 L289.89 422.09 L292.00 418.29 L294.11 413.34 L296.22 407.22 L298.34 400.11 L300.45 392.41 L302.56 384.72 L304.68 377.61 L306.79 371.49 L308.90 366.54 L311.01 362.74 L313.12 359.93 L315.24 357.92 L317.35 356.50 L319.46 355.52 L321.57 354.85 L323.69 354.40 L325.80 354.09 L327.91 353.88 L330.02 353.74 L332.14 353.64 L334.25 353.58 L336.36 353.54 L338.47 353.51 L340.59 353.49 L342.70 353.48 L342.70 363.23 L340.59 363.24 L338.47 363.26 L336.36 363.29 L334.25 363.33 L332.14 363.39 L330.02 363.49 L327.91 363.63 L325.80 363.84 L323.69 364.15 L321.57 364.60 L319.46 365.27 L317.35 366.25 L315.24 367.67 L313.12 369.68 L311.01 372.49 L308.90 376.29 L306.79 381.24 L304.68 387.36 L302.56 394.47 L300.45 402.16 L298.34 409.86 L296.22 416.97 L294.11 423.09 L292.00 428.04 L289.89 431.84 L287.77 434.65 L285.66 436.66 L283.55 438.08 L281.44 439.06 L279.32 439.73 L277.21 440.18 L275.10 440.49 L272.99 440.70 L270.88 440.84 L268.76 440.94 L266.65 441.00 L264.54 441.04 L262.43 441.07 L260.31 441.09 L258.20 441.10Z" fill="#e8e6a7" fill-opacity="0.6"/>
<path d="M258.20 266.94 L260.31 266.95 L262.43 266.98 L264.54 267.02 L266.65 267.08 L268.76 267.16 L270.88 267.29 L272.99 267.49 L275.10 267.77 L277.21 268.19 L279.32 268.82 L281.44 269.74 L283.55 271.08 L285.66 273.02 L287.77 275.77 L289.89 279.62 L292.00 284.82 L294.11 291.60 L296.22 299.98 L298.34 309.72 L300.45 320.25 L302.56 330.78 L304.68 340.52 L306.79 348.90 L308.90 355.68 L311.01 360.88 L313.12 364.73 L315.24 367.48 L317.35 369.42 L319.46 370.76 L321.57 371.68 L323.69 372.31 L325.80 372.73 L327.91 373.01 L330.02 373.21 L332.14 373.34 L334.25 373.42 L336.36 373.48 L338.47 373.52 L340.59 373.55 L342.70 373.56 L342.70 383.31 L340.59 383.30 L338.47 383.27 L336.36 383.23 L334.25 383.17 L332.14 383.09 L330.02 382.96 L327.91 382.76 L325.80 382.48 L323.69 382.06 L321.57 381.43 L319.46 380.51 L317.35 379.17 L315.24 377.23 L313.12 374.48 L311.01 370.63 L308.90 365.43 L306.79 358.65 L304.68 350.27 L302.56 340.53 L300.45 330.00 L298.34 319.47 L296.22 309.73 L294.11 301.35 L292.00 294.57 L289.89 289.37 L287.77 285.52 L285.66 282.77 L283.55 280.83 L281.44 279.49 L279.32 278.57 L277.21 277.94 L275.10 277.52 L272.99 277.24 L270.88 277.04 L268.76 276.91 L266.65 276.83 L264.54 276.77 L262.43 276.73 L260.31 276.70 L258.20 276.69Z" fill="#a3d9b7" fill-opacity="0.6"/>
<path d="M258.20 349.15 L260.31 349.16 L262.43 349.17 L264.54 349.18 L266.65 349.20 L268.76 349.22 L270.88 349.27 L272.99 349.33 L275.10 349.42 L277.21 349.55 L279.32 349.76 L281.44 350.05 L283.55 350.48 L285.66 351.10 L287.77 351.99 L289.89 353.22 L292.00 354.89 L294.11 357.06 L296.22 359.75 L298.34 362.87 L300.45 366.25 L302.56 369.62 L304.68 372.74 L306.79 375.43 L308.90 377.60 L311.01 379.27 L313.12 380.50 L315.24 381.39 L317.35 382.01 L319.46 382.44 L321.57 382.73 L323.69 382.94 L325.80 383.07 L327.91 383.16 L330.02 383.22 L332.14 383.27 L334.25 383.29 L336.36 383.31 L338.47 383.32 L340.59 383.33 L342.70 383.34 L342.70 393.09 L340.59 393.08 L338.47 393.07 L336.36 393.06 L334.25 393.04 L332.14 393.02 L330.02 392.97 L327.91 392.91 L325.80 392.82 L323.69 392.69 L321.57 392.48 L319.46 392.19 L317.35 391.76 L315.24 391.14 L313.12 390.25 L311.01 389.02 L308.90 387.35 L306.79 385.18 L304.68 382.49 L302.56 379.37 L300.45 376.00 L298.34 372.62 L296.22 369.50 L294.11 366.81 L292.00 364.64 L289.89 362.97 L287.77 361.74 L285.66 360.85 L283.55 360.23 L281.44 359.80 L279.32 359.51 L277.21 359.30 L275.10 359.17 L272.99 359.08 L270.88 359.02 L268.76 358.97 L266.65 358.95 L264.54 358.93 L262.43 358.92 L260.31 358.91 L258.20 358.90Z" fill="#b24b4e" fill-opacity="0.6"/>
<path d="M258.20 369.71 L260.31 369.71 L262.43 369.72 L264.54 369.73 L266.65 369.74 L268.76 369.76 L270.88 369.79 L272.99 369.83 L275.10 369.89 L277.21 369.98 L279.32 370.12 L281.44 370.32 L283.55 370.62 L285.66 371.04 L287.77 371.65 L289.89 372.49 L292.00 373.63 L294.11 375.12 L296.22 376.95 L298.34 379.09 L300.45 381.40 L302.56 383.71 L304.68 385.85 L306.79 387.68 L308.90 389.17 L311.01 390.31 L313.12 391.15 L315.24 391.76 L317.35 392.18 L319.46 392.48 L321.57 392.68 L323.69 392.82 L325.80 392.91 L327.91 392.97 L330.02 393.01 L332.14 393.04 L334.25 393.06 L336.36 393.07 L338.47 393.08 L340.59 393.09 L342.70 393.09 L342.70 402.84 L340.59 402.84 L338.47 402.83 L336.36 402.82 L334.25 402.81 L332.14 402.79 L330.02 402.76 L327.91 402.72 L325.80 402.66 L323.69 402.57 L321.57 402.43 L319.46 402.23 L317.35 401.93 L315.24 401.51 L313.12 400.90 L311.01 400.06 L308.90 398.92 L306.79 397.43 L304.68 395.60 L302.56 393.46 L300.45 391.15 L298.34 388.84 L296.22 386.70 L294.11 384.87 L292.00 383.38 L289.89 382.24 L287.77 381.40 L285.66 380.79 L283.55 380.37 L281.44 380.07 L279.32 379.87 L277.21 379.73 L275.10 379.64 L272.99 379.58 L270.88 379.54 L268.76 379.51 L266.65 379.49 L264.54 379.48 L262.43 379.47 L260.31 379.46 L258.20 379.46Z" fill="#e6ebb9" fill-opacity="0.6"/>
<path d="M342.70 304.70 L344.82 304.71 L346.95 304.71 L349.07 304.71 L351.20 304.72 L353.32 304.73 L355.45 304.74 L357.57 304.76 L359.70 304.78 L361.82 304.82 L363.95 304.88 L366.07 304.97 L368.20 305.10 L370.32 305.28 L372.45 305.54 L374.57 305.91 L376.70 306.41 L378.82 307.05 L380.95 307.85 L383.07 308.77 L385.20 309.77 L387.32 310.78 L389.45 311.70 L391.57 312.50 L393.70 313.14 L395.82 313.64 L397.95 314.01 L400.07 314.27 L402.20 314.45 L404.32 314.58 L406.45 314.67 L408.57 314.73 L410.70 314.77 L412.82 314.79 L414.95 314.81 L417.07 314.82 L419.20 314.83 L421.32 314.84 L423.45 314.84 L425.57 314.84 L427.70 314.85 L427.70 353.85 L425.57 353.84 L423.45 353.84 L421.32 353.84 L419.20 353.83 L417.07 353.82 L414.95 353.81 L412.82 353.79 L410.70 353.77 L408.57 353.73 L406.45 353.67 L404.32 353.58 L402.20 353.45 L400.07 353.27 L397.95 353.01 L395.82 352.64 L393.70 352.14 L391.57 351.50 L389.45 350.70 L387.32 349.78 L385.20 348.77 L383.07 347.77 L380.95 346.85 L378.82 346.05 L376.70 345.41 L374.57 344.91 L372.45 344.54 L370.32 344.28 L368.20 344.10 L366.07 343.97 L363.95 343.88 L361.82 343.82 L359.70 343.78 L357.57 343.76 L355.45 343.74 L353.32 343.73 L351.20 343.72 L349.07 343.71 L346.95 343.71 L344.82 343.71 L342.70 343.70ZM342.70 343.71 L344.82 343.71 L346.95 343.72 L349.07 343.72 L351.20 343.73 L353.32 343.75 L355.45 343.78 L357.57 343.81 L359.70 343.87 L361.82 343.95 L363.95 344.08 L366.07 344.26 L368.20 344.52 L370.32 344.90 L372.45 345.44 L374.57 346.20 L376.70 347.22 L378.82 348.55 L380.95 350.20 L383.07 352.11 L385.20 354.17 L387.32 356.24 L389.45 358.15 L391.57 359.80 L393.70 361.13 L395.82 362.15 L397.95 362.91 L400.07 363.45 L402.20 363.83 L404.32 364.09 L406.45 364.27 L408.57 364.40 L410.70 364.48 L412.82 364.54 L414.95 364.57 L417.07 364.60 L419.20 364.62 L421.32 364.63 L423.45 364.63 L425.57 364.64 L427.70 364.64 L427.70 384.14 L425.57 384.14 L423.45 384.13 L421.32 384.13 L419.20 384.12 L417.07 384.10 L414.95 384.07 L412.82 384.04 L410.70 383.98 L408.57 383.90 L406.45 383.77 L404.32 383.59 L402.20 383.33 L400.07 382.95 L397.95 382.41 L395.82 381.65 L393.70 380.63 L391.57 379.30 L389.45 377.65 L387.32 375.74 L385.20 373.67 L383.07 371.61 L380.95 369.70 L378.82 368.05 L376.70 366.72 L374.57 365.70 L372.45 364.94 L370.32 364.40 L368.20 364.02 L366.07 363.76 L363.95 363.58 L361.82 363.45 L359.70 363.37 L357.57 363.31 L355.45 363.28 L353.32 363.25 L351.20 363.23 L349.07 363.22 L346.95 363.22 L344.82 363.21 L342.70 363.21Z" fill="#dfb77b" fill-opacity="0.6"/>
<path d="M342.70 373.57 L344.82 373.56 L346.95 373.54 L349.07 373.51 L351.20 373.47 L353.32 373.40 L355.45 373.31 L357.57 373.16 L359.70 372.95 L361.82 372.64 L363.95 372.17 L366.07 371.49 L368.20 370.49 L370.32 369.05 L372.45 367.00 L374.57 364.15 L376.70 360.28 L378.82 355.24 L380.95 349.01 L383.07 341.78 L385.20 333.95 L387.32 326.12 L389.45 318.89 L391.57 312.66 L393.70 307.62 L395.82 303.75 L397.95 300.90 L400.07 298.85 L402.20 297.41 L404.32 296.41 L406.45 295.73 L408.57 295.26 L410.70 294.95 L412.82 294.74 L414.95 294.59 L417.07 294.50 L419.20 294.43 L421.32 294.39 L423.45 294.36 L425.57 294.34 L427.70 294.33 L427.70 304.08 L425.57 304.09 L423.45 304.11 L421.32 304.14 L419.20 304.18 L417.07 304.25 L414.95 304.34 L412.82 304.49 L410.70 304.70 L408.57 305.01 L406.45 305.48 L404.32 306.16 L402.20 307.16 L400.07 308.60 L397.95 310.65 L395.82 313.50 L393.70 317.37 L391.57 322.41 L389.45 328.64 L387.32 335.87 L385.20 343.70 L383.07 351.53 L380.95 358.76 L378.82 364.99 L376.70 370.03 L374.57 373.90 L372.45 376.75 L370.32 378.80 L368.20 380.24 L366.07 381.24 L363.95 381.92 L361.82 382.39 L359.70 382.70 L357.57 382.91 L355.45 383.06 L353.32 383.15 L351.20 383.22 L349.07 383.26 L346.95 383.29 L344.82 383.31 L342.70 383.32ZM342.70 383.35 L344.82 383.36 L346.95 383.36 L349.07 383.36 L351.20 383.37 L353.32 383.38 L355.45 383.39 L357.57 383.41 L359.70 383.44 L361.82 383.49 L363.95 383.56 L366.07 383.66 L368.20 383.80 L370.32 384.01 L372.45 384.31 L374.57 384.73 L376.70 385.30 L378.82 386.04 L380.95 386.95 L383.07 388.01 L385.20 389.15 L387.32 390.29 L389.45 391.35 L391.57 392.26 L393.70 393.00 L395.82 393.57 L397.95 393.99 L400.07 394.29 L402.20 394.50 L404.32 394.64 L406.45 394.74 L408.57 394.81 L410.70 394.86 L412.82 394.89 L414.95 394.91 L417.07 394.92 L419.20 394.93 L421.32 394.94 L423.45 394.94 L425.57 394.94 L427.70 394.95 L427.70 414.45 L425.57 414.44 L423.45 414.44 L421.32 414.44 L419.20 414.43 L417.07 414.42 L414.95 414.41 L412.82 414.39 L410.70 414.36 L408.57 414.31 L406.45 414.24 L404.32 414.14 L402.20 414.00 L400.07 413.79 L397.95 413.49 L395.82 413.07 L393.70 412.50 L391.57 411.76 L389.45 410.85 L387.32 409.79 L385.20 408.65 L383.07 407.51 L380.95 406.45 L378.82 405.54 L376.70 404.80 L374.57 404.23 L372.45 403.81 L370.32 403.51 L368.20 403.30 L366.07 403.16 L363.95 403.06 L361.82 402.99 L359.70 402.94 L357.57 402.91 L355.45 402.89 L353.32 402.88 L351.20 402.87 L349.07 402.86 L346.95 402.86 L344.82 402.86 L342.70 402.85Z" fill="#61aab7" fill-opacity="0.6"/>
<line x1="258.2" y1="266.90" x2="258.2" y2="276.85" stroke="#363636" stroke-width="1.15"/>
<line x1="258.2" y1="287.46" x2="258.2" y2="297.41" stroke="#363636" stroke-width="1.15"/>
<line x1="258.2" y1="308.02" x2="258.2" y2="317.97" stroke="#363636" stroke-width="1.15"/>
<line x1="258.2" y1="328.58" x2="258.2" y2="338.53" stroke="#363636" stroke-width="1.15"/>
<line x1="258.2" y1="349.14" x2="258.2" y2="359.09" stroke="#363636" stroke-width="1.15"/>
<line x1="258.2" y1="369.70" x2="258.2" y2="379.65" stroke="#363636" stroke-width="1.15"/>
<line x1="258.2" y1="390.26" x2="258.2" y2="400.21" stroke="#363636" stroke-width="1.15"/>
<line x1="258.2" y1="410.82" x2="258.2" y2="420.77" stroke="#363636" stroke-width="1.15"/>
<line x1="258.2" y1="431.38" x2="258.2" y2="441.33" stroke="#363636" stroke-width="1.15"/>
<line x1="342.7" y1="304.70" x2="342.7" y2="363.20" stroke="#363636" stroke-width="1.15"/>
<line x1="342.7" y1="373.60" x2="342.7" y2="402.85" stroke="#363636" stroke-width="1.15"/>
<line x1="427.7" y1="294.30" x2="427.7" y2="304.05" stroke="#363636" stroke-width="1.15"/>
<line x1="427.7" y1="314.85" x2="427.7" y2="353.85" stroke="#363636" stroke-width="1.15"/>
<line x1="427.7" y1="364.65" x2="427.7" y2="384.15" stroke="#363636" stroke-width="1.15"/>
<line x1="427.7" y1="394.95" x2="427.7" y2="414.45" stroke="#363636" stroke-width="1.15"/>
<text x="258.50" y="283.10" font-size="4.4" text-anchor="middle" font-family="Liberation Sans, Arial, sans-serif" fill="#000"  stroke="#000" stroke-width="0.07">XP_016134228.1</text>
<text x="258.50" y="304.10" font-size="4.4" text-anchor="middle" font-family="Liberation Sans, Arial, sans-serif" fill="#000"  stroke="#000" stroke-width="0.07">XP_012363747.1</text>
<text x="258.50" y="322.90" font-size="4.4" text-anchor="middle" font-family="Liberation Sans, Arial, sans-serif" fill="#000"  stroke="#000" stroke-width="0.07">XP_006820818.1</text>
<text x="258.50" y="343.60" font-size="4.4" text-anchor="middle" font-family="Liberation Sans, Arial, sans-serif" fill="#000"  stroke="#000" stroke-width="0.07">ROL50675.1</text>
<text x="258.50" y="364.20" font-size="4.4" text-anchor="middle" font-family="Liberation Sans, Arial, sans-serif" fill="#000"  stroke="#000" stroke-width="0.07">ROL45172.1</text>
<text x="258.50" y="384.90" font-size="4.4" text-anchor="middle" font-family="Liberation Sans, Arial, sans-serif" fill="#000"  stroke="#000" stroke-width="0.07">ROL43788.1</text>
<text x="258.50" y="406.10" font-size="4.4" text-anchor="middle" font-family="Liberation Sans, Arial, sans-serif" fill="#000"  stroke="#000" stroke-width="0.07">ROI79362.1</text>
<text x="258.50" y="426.20" font-size="4.4" text-anchor="middle" font-family="Liberation Sans, Arial, sans-serif" fill="#000"  stroke="#000" stroke-width="0.07">NP_942113.1</text>
<text x="258.50" y="446.70" font-size="4.4" text-anchor="middle" font-family="Liberation Sans, Arial, sans-serif" fill="#000"  stroke="#000" stroke-width="0.07">NP_001018465.1</text>
<text x="342.70" y="368.60" font-size="4.4" text-anchor="middle" font-family="Liberation Sans, Arial, sans-serif" fill="#000"  stroke="#000" stroke-width="0.07">Gap junction</text>
<text x="342.70" y="410.70" font-size="4.4" text-anchor="middle" font-family="Liberation Sans, Arial, sans-serif" fill="#000"  stroke="#000" stroke-width="0.07">AMPK signaling pathway</text>
<text x="427.70" y="309.30" font-size="4.4" text-anchor="middle" font-family="Liberation Sans, Arial, sans-serif" fill="#000"  stroke="#000" stroke-width="0.07">Pyruvate</text>
<text x="427.40" y="360.00" font-size="4.4" text-anchor="middle" font-family="Liberation Sans, Arial, sans-serif" fill="#000"  stroke="#000" stroke-width="0.07">DL−Glutamic acid</text>
<text x="428.00" y="389.70" font-size="4.4" text-anchor="middle" font-family="Liberation Sans, Arial, sans-serif" fill="#000"  stroke="#000" stroke-width="0.07">Cyclic gmp</text>
<text x="427.70" y="421.00" font-size="4.4" text-anchor="middle" font-family="Liberation Sans, Arial, sans-serif" fill="#000"  stroke="#000" stroke-width="0.07">Adenosine 5'−diphosphate</text>
<text x="258.20" y="259.00" font-size="6.8" text-anchor="middle" font-family="Liberation Sans, Arial, sans-serif" fill="#000"  stroke="#000" stroke-width="0.1">Gene</text>
<text x="343.30" y="259.00" font-size="6.8" text-anchor="middle" font-family="Liberation Sans, Arial, sans-serif" fill="#000"  stroke="#000" stroke-width="0.1">KEGG pathway</text>
<text x="428.00" y="259.00" font-size="6.8" text-anchor="middle" font-family="Liberation Sans, Arial, sans-serif" fill="#000"  stroke="#000" stroke-width="0.1">Metabolism</text>
<text x="247.40" y="456.60" font-size="6.5" text-anchor="start" font-family="Liberation Sans, Arial, sans-serif" fill="#000"  stroke="#000" stroke-width="0.1">T12 vs T3</text>
<path d="M518.50 291.91 L520.07 291.91 L521.64 291.92 L523.21 291.93 L524.78 291.95 L526.35 291.97 L527.92 292.00 L529.49 292.05 L531.06 292.12 L532.63 292.23 L534.20 292.39 L535.77 292.63 L537.34 292.97 L538.91 293.46 L540.48 294.17 L542.05 295.15 L543.62 296.49 L545.19 298.22 L546.76 300.36 L548.33 302.86 L549.90 305.55 L551.47 308.24 L553.04 310.74 L554.61 312.88 L556.18 314.61 L557.75 315.95 L559.32 316.93 L560.89 317.64 L562.46 318.13 L564.03 318.47 L565.60 318.71 L567.17 318.87 L568.74 318.98 L570.31 319.05 L571.88 319.10 L573.45 319.13 L575.02 319.15 L576.59 319.17 L578.16 319.18 L579.73 319.19 L581.30 319.19 L581.30 330.25 L579.73 330.25 L578.16 330.24 L576.59 330.23 L575.02 330.21 L573.45 330.19 L571.88 330.16 L570.31 330.11 L568.74 330.04 L567.17 329.93 L565.60 329.77 L564.03 329.53 L562.46 329.19 L560.89 328.70 L559.32 327.99 L557.75 327.01 L556.18 325.67 L554.61 323.94 L553.04 321.80 L551.47 319.30 L549.90 316.61 L548.33 313.92 L546.76 311.42 L545.19 309.28 L543.62 307.55 L542.05 306.21 L540.48 305.23 L538.91 304.52 L537.34 304.03 L535.77 303.69 L534.20 303.45 L532.63 303.29 L531.06 303.18 L529.49 303.11 L527.92 303.06 L526.35 303.03 L524.78 303.01 L523.21 302.99 L521.64 302.98 L520.07 302.97 L518.50 302.97Z" fill="#e6ebb9" fill-opacity="0.6"/>
<path d="M518.50 316.70 L520.07 316.71 L521.64 316.71 L523.21 316.72 L524.78 316.72 L526.35 316.73 L527.92 316.75 L529.49 316.77 L531.06 316.81 L532.63 316.86 L534.20 316.94 L535.77 317.06 L537.34 317.23 L538.91 317.48 L540.48 317.83 L542.05 318.32 L543.62 318.98 L545.19 319.84 L546.76 320.90 L548.33 322.14 L549.90 323.48 L551.47 324.82 L553.04 326.06 L554.61 327.12 L556.18 327.98 L557.75 328.64 L559.32 329.13 L560.89 329.48 L562.46 329.73 L564.03 329.90 L565.60 330.02 L567.17 330.10 L568.74 330.15 L570.31 330.19 L571.88 330.21 L573.45 330.23 L575.02 330.24 L576.59 330.24 L578.16 330.25 L579.73 330.25 L581.30 330.26 L581.30 341.32 L579.73 341.31 L578.16 341.31 L576.59 341.30 L575.02 341.30 L573.45 341.29 L571.88 341.27 L570.31 341.25 L568.74 341.21 L567.17 341.16 L565.60 341.08 L564.03 340.96 L562.46 340.79 L560.89 340.54 L559.32 340.19 L557.75 339.70 L556.18 339.04 L554.61 338.18 L553.04 337.12 L551.47 335.88 L549.90 334.54 L548.33 333.20 L546.76 331.96 L545.19 330.90 L543.62 330.04 L542.05 329.38 L540.48 328.89 L538.91 328.54 L537.34 328.29 L535.77 328.12 L534.20 328.00 L532.63 327.92 L531.06 327.87 L529.49 327.83 L527.92 327.81 L526.35 327.79 L524.78 327.78 L523.21 327.78 L521.64 327.77 L520.07 327.77 L518.50 327.76Z" fill="#b9deaf" fill-opacity="0.6"/>
<path d="M518.50 341.50 L520.07 341.50 L521.64 341.50 L523.21 341.50 L524.78 341.50 L526.35 341.50 L527.92 341.50 L529.49 341.50 L531.06 341.50 L532.63 341.50 L534.20 341.50 L535.77 341.50 L537.34 341.49 L538.91 341.49 L540.48 341.49 L542.05 341.48 L543.62 341.47 L545.19 341.46 L546.76 341.44 L548.33 341.43 L549.90 341.41 L551.47 341.39 L553.04 341.38 L554.61 341.36 L556.18 341.35 L557.75 341.34 L559.32 341.33 L560.89 341.33 L562.46 341.33 L564.03 341.32 L565.60 341.32 L567.17 341.32 L568.74 341.32 L570.31 341.32 L571.88 341.32 L573.45 341.32 L575.02 341.32 L576.59 341.32 L578.16 341.32 L579.73 341.32 L581.30 341.32 L581.30 352.38 L579.73 352.38 L578.16 352.38 L576.59 352.38 L575.02 352.38 L573.45 352.38 L571.88 352.38 L570.31 352.38 L568.74 352.38 L567.17 352.38 L565.60 352.38 L564.03 352.38 L562.46 352.39 L560.89 352.39 L559.32 352.39 L557.75 352.40 L556.18 352.41 L554.61 352.42 L553.04 352.44 L551.47 352.45 L549.90 352.47 L548.33 352.49 L546.76 352.50 L545.19 352.52 L543.62 352.53 L542.05 352.54 L540.48 352.55 L538.91 352.55 L537.34 352.55 L535.77 352.56 L534.20 352.56 L532.63 352.56 L531.06 352.56 L529.49 352.56 L527.92 352.56 L526.35 352.56 L524.78 352.56 L523.21 352.56 L521.64 352.56 L520.07 352.56 L518.50 352.56Z" fill="#d4e6b2" fill-opacity="0.6"/>
<path d="M518.50 366.30 L520.07 366.29 L521.64 366.29 L523.21 366.28 L524.78 366.28 L526.35 366.27 L527.92 366.25 L529.49 366.22 L531.06 366.19 L532.63 366.13 L534.20 366.05 L535.77 365.93 L537.34 365.75 L538.91 365.50 L540.48 365.14 L542.05 364.64 L543.62 363.96 L545.19 363.08 L546.76 361.98 L548.33 360.71 L549.90 359.34 L551.47 357.97 L553.04 356.70 L554.61 355.60 L556.18 354.72 L557.75 354.04 L559.32 353.54 L560.89 353.18 L562.46 352.93 L564.03 352.75 L565.60 352.63 L567.17 352.55 L568.74 352.49 L570.31 352.46 L571.88 352.43 L573.45 352.41 L575.02 352.40 L576.59 352.40 L578.16 352.39 L579.73 352.39 L581.30 352.38 L581.30 363.44 L579.73 363.45 L578.16 363.45 L576.59 363.46 L575.02 363.46 L573.45 363.47 L571.88 363.49 L570.31 363.52 L568.74 363.55 L567.17 363.61 L565.60 363.69 L564.03 363.81 L562.46 363.99 L560.89 364.24 L559.32 364.60 L557.75 365.10 L556.18 365.78 L554.61 366.66 L553.04 367.76 L551.47 369.03 L549.90 370.40 L548.33 371.77 L546.76 373.04 L545.19 374.14 L543.62 375.02 L542.05 375.70 L540.48 376.20 L538.91 376.56 L537.34 376.81 L535.77 376.99 L534.20 377.11 L532.63 377.19 L531.06 377.25 L529.49 377.28 L527.92 377.31 L526.35 377.33 L524.78 377.34 L523.21 377.34 L521.64 377.35 L520.07 377.35 L518.50 377.36Z" fill="#e6ebb9" fill-opacity="0.6"/>
<path d="M518.50 391.09 L520.07 391.09 L521.64 391.08 L523.21 391.07 L524.78 391.05 L526.35 391.03 L527.92 391.00 L529.49 390.95 L531.06 390.87 L532.63 390.76 L534.20 390.60 L535.77 390.36 L537.34 390.02 L538.91 389.51 L540.48 388.80 L542.05 387.80 L543.62 386.45 L545.19 384.70 L546.76 382.52 L548.33 380.00 L549.90 377.27 L551.47 374.54 L553.04 372.02 L554.61 369.84 L556.18 368.09 L557.75 366.74 L559.32 365.74 L560.89 365.03 L562.46 364.52 L564.03 364.18 L565.60 363.94 L567.17 363.78 L568.74 363.67 L570.31 363.59 L571.88 363.54 L573.45 363.51 L575.02 363.49 L576.59 363.47 L578.16 363.46 L579.73 363.45 L581.30 363.45 L581.30 374.51 L579.73 374.51 L578.16 374.52 L576.59 374.53 L575.02 374.55 L573.45 374.57 L571.88 374.60 L570.31 374.65 L568.74 374.73 L567.17 374.84 L565.60 375.00 L564.03 375.24 L562.46 375.58 L560.89 376.09 L559.32 376.80 L557.75 377.80 L556.18 379.15 L554.61 380.90 L553.04 383.08 L551.47 385.60 L549.90 388.33 L548.33 391.06 L546.76 393.58 L545.19 395.76 L543.62 397.51 L542.05 398.86 L540.48 399.86 L538.91 400.57 L537.34 401.08 L535.77 401.42 L534.20 401.66 L532.63 401.82 L531.06 401.93 L529.49 402.01 L527.92 402.06 L526.35 402.09 L524.78 402.11 L523.21 402.13 L521.64 402.14 L520.07 402.15 L518.50 402.15Z" fill="#dfb77b" fill-opacity="0.6"/>
<path d="M581.30 319.20 L582.86 319.20 L584.42 319.20 L585.99 319.19 L587.55 319.19 L589.11 319.18 L590.67 319.18 L592.24 319.16 L593.80 319.15 L595.36 319.12 L596.92 319.08 L598.49 319.03 L600.05 318.95 L601.61 318.83 L603.17 318.66 L604.74 318.43 L606.30 318.11 L607.86 317.70 L609.42 317.18 L610.99 316.59 L612.55 315.95 L614.11 315.31 L615.67 314.72 L617.24 314.20 L618.80 313.79 L620.36 313.47 L621.92 313.24 L623.49 313.07 L625.05 312.95 L626.61 312.87 L628.17 312.82 L629.74 312.78 L631.30 312.75 L632.86 312.74 L634.42 312.72 L635.99 312.72 L637.55 312.71 L639.11 312.71 L640.67 312.70 L642.24 312.70 L643.80 312.70 L643.80 356.94 L642.24 356.94 L640.67 356.94 L639.11 356.95 L637.55 356.95 L635.99 356.96 L634.42 356.96 L632.86 356.98 L631.30 356.99 L629.74 357.02 L628.17 357.06 L626.61 357.11 L625.05 357.19 L623.49 357.31 L621.92 357.48 L620.36 357.71 L618.80 358.03 L617.24 358.44 L615.67 358.96 L614.11 359.55 L612.55 360.19 L610.99 360.83 L609.42 361.42 L607.86 361.94 L606.30 362.35 L604.74 362.67 L603.17 362.90 L601.61 363.07 L600.05 363.19 L598.49 363.27 L596.92 363.32 L595.36 363.36 L593.80 363.39 L592.24 363.40 L590.67 363.42 L589.11 363.42 L587.55 363.43 L585.99 363.43 L584.42 363.44 L582.86 363.44 L581.30 363.44ZM581.30 363.44 L582.86 363.44 L584.42 363.44 L585.99 363.45 L587.55 363.45 L589.11 363.46 L590.67 363.46 L592.24 363.48 L593.80 363.49 L595.36 363.52 L596.92 363.56 L598.49 363.62 L600.05 363.70 L601.61 363.82 L603.17 363.99 L604.74 364.23 L606.30 364.56 L607.86 364.98 L609.42 365.50 L610.99 366.11 L612.55 366.77 L614.11 367.43 L615.67 368.04 L617.24 368.56 L618.80 368.98 L620.36 369.31 L621.92 369.55 L623.49 369.72 L625.05 369.84 L626.61 369.92 L628.17 369.98 L629.74 370.02 L631.30 370.05 L632.86 370.06 L634.42 370.08 L635.99 370.08 L637.55 370.09 L639.11 370.09 L640.67 370.10 L642.24 370.10 L643.80 370.10 L643.80 381.16 L642.24 381.16 L640.67 381.16 L639.11 381.15 L637.55 381.15 L635.99 381.14 L634.42 381.14 L632.86 381.12 L631.30 381.11 L629.74 381.08 L628.17 381.04 L626.61 380.98 L625.05 380.90 L623.49 380.78 L621.92 380.61 L620.36 380.37 L618.80 380.04 L617.24 379.62 L615.67 379.10 L614.11 378.49 L612.55 377.83 L610.99 377.17 L609.42 376.56 L607.86 376.04 L606.30 375.62 L604.74 375.29 L603.17 375.05 L601.61 374.88 L600.05 374.76 L598.49 374.68 L596.92 374.62 L595.36 374.58 L593.80 374.55 L592.24 374.54 L590.67 374.52 L589.11 374.52 L587.55 374.51 L585.99 374.51 L584.42 374.50 L582.86 374.50 L581.30 374.50Z" fill="#61aab7" fill-opacity="0.6"/>
<line x1="518.5" y1="291.90" x2="518.5" y2="302.96" stroke="#363636" stroke-width="1.15"/>
<line x1="518.5" y1="316.70" x2="518.5" y2="327.76" stroke="#363636" stroke-width="1.15"/>
<line x1="518.5" y1="341.50" x2="518.5" y2="352.56" stroke="#363636" stroke-width="1.15"/>
<line x1="518.5" y1="366.30" x2="518.5" y2="377.36" stroke="#363636" stroke-width="1.15"/>
<line x1="518.5" y1="391.10" x2="518.5" y2="402.16" stroke="#363636" stroke-width="1.15"/>
<line x1="581.3" y1="319.20" x2="581.3" y2="374.50" stroke="#363636" stroke-width="1.15"/>
<line x1="643.8" y1="312.70" x2="643.8" y2="356.94" stroke="#363636" stroke-width="1.15"/>
<line x1="643.8" y1="370.10" x2="643.8" y2="381.16" stroke="#363636" stroke-width="1.15"/>
<text x="518.80" y="309.20" font-size="4.4" text-anchor="middle" font-family="Liberation Sans, Arial, sans-serif" fill="#000"  stroke="#000" stroke-width="0.07">XP_026119408.1</text>
<text x="518.80" y="334.60" font-size="4.4" text-anchor="middle" font-family="Liberation Sans, Arial, sans-serif" fill="#000"  stroke="#000" stroke-width="0.07">XP_017213295.1</text>
<text x="518.80" y="359.60" font-size="4.4" text-anchor="middle" font-family="Liberation Sans, Arial, sans-serif" fill="#000"  stroke="#000" stroke-width="0.07">XP_005157055.1</text>
<text x="518.80" y="382.80" font-size="4.4" text-anchor="middle" font-family="Liberation Sans, Arial, sans-serif" fill="#000"  stroke="#000" stroke-width="0.07">ROI46744.1</text>
<text x="518.80" y="407.70" font-size="4.4" text-anchor="middle" font-family="Liberation Sans, Arial, sans-serif" fill="#000"  stroke="#000" stroke-width="0.07">ROI16251.1</text>
<text x="588.35" y="387.80" font-size="4.4" text-anchor="middle" font-family="Liberation Sans, Arial, sans-serif" fill="#000"  stroke="#000" stroke-width="0.07">Protein digestion and absorption</text>
<text x="644.10" y="363.00" font-size="4.4" text-anchor="middle" font-family="Liberation Sans, Arial, sans-serif" fill="#000"  stroke="#000" stroke-width="0.07">DL−tryptophan</text>
<text x="644.00" y="387.80" font-size="4.4" text-anchor="middle" font-family="Liberation Sans, Arial, sans-serif" fill="#000"  stroke="#000" stroke-width="0.07">DL−Glutamic acid</text>
<text x="518.50" y="284.60" font-size="6.8" text-anchor="middle" font-family="Liberation Sans, Arial, sans-serif" fill="#000"  stroke="#000" stroke-width="0.1">Gene</text>
<text x="582.80" y="284.60" font-size="6.8" text-anchor="middle" font-family="Liberation Sans, Arial, sans-serif" fill="#000"  stroke="#000" stroke-width="0.1">KEGG pathway</text>
<text x="643.90" y="284.60" font-size="6.8" text-anchor="middle" font-family="Liberation Sans, Arial, sans-serif" fill="#000"  stroke="#000" stroke-width="0.1">Metabolism</text>
<text x="481.40" y="456.90" font-size="6.5" text-anchor="start" font-family="Liberation Sans, Arial, sans-serif" fill="#000"  stroke="#000" stroke-width="0.1">T24 vs T3</text>
</svg></body></html>
